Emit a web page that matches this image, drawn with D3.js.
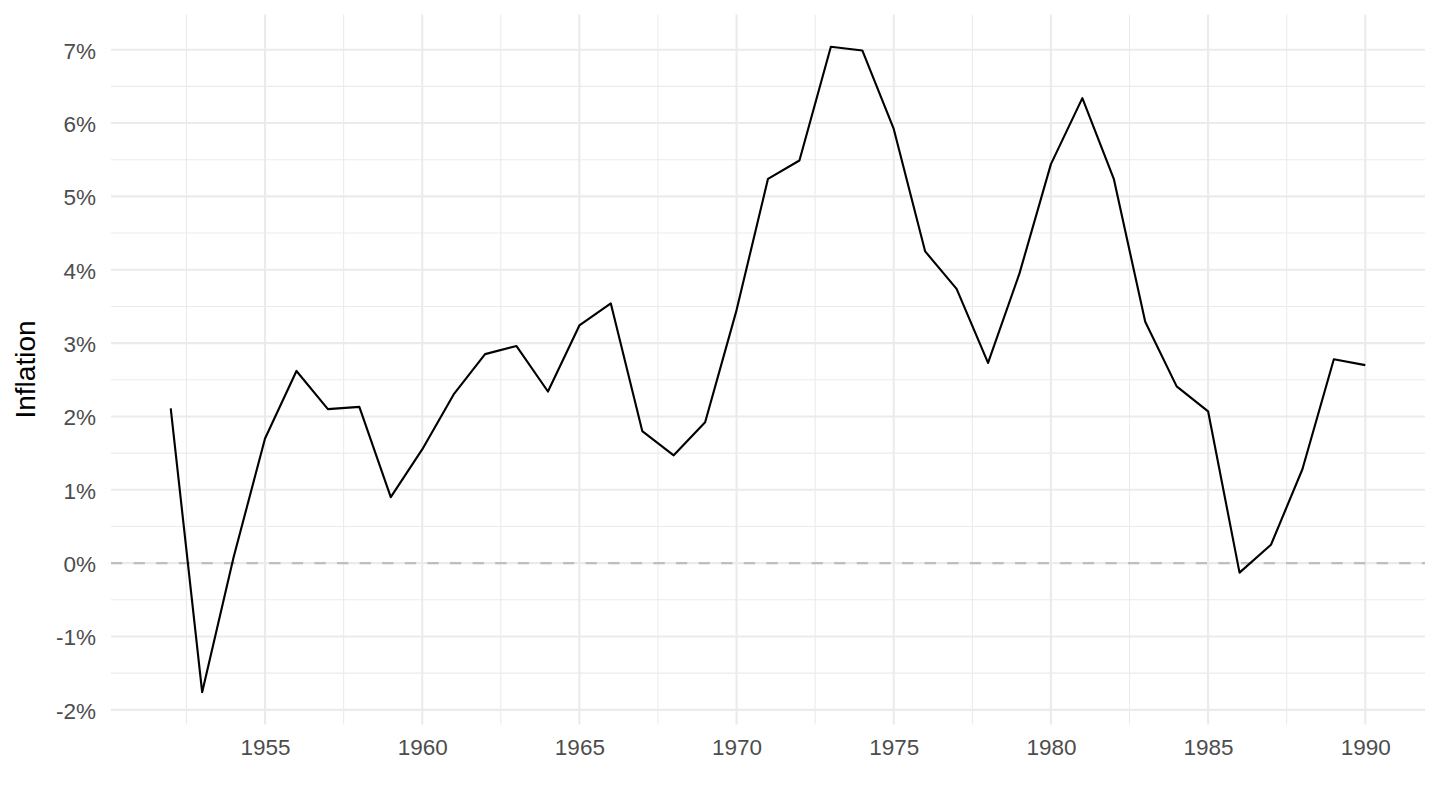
<!DOCTYPE html>
<html>
<head>
<meta charset="utf-8">
<script src="https://cdn.jsdelivr.net/npm/d3@7"></script>
<style>
  html, body { margin: 0; padding: 0; background: #fff; }
  svg { display: block; }
</style>
</head>
<body>
<svg id="chart" width="1440" height="810"></svg>
<script>
const years = [1952,1953,1954,1955,1956,1957,1958,1959,1960,1961,1962,1963,1964,1965,1966,1967,1968,1969,1970,1971,1972,1973,1974,1975,1976,1977,1978,1979,1980,1981,1982,1983,1984,1985,1986,1987,1988,1989,1990];
const inflation = [2.11,-1.76,0.08,1.70,2.62,2.10,2.13,0.90,1.55,2.30,2.85,2.96,2.34,3.24,3.54,1.80,1.47,1.92,3.45,5.24,5.49,7.04,6.99,5.92,4.25,3.74,2.73,3.95,5.44,6.34,5.24,3.29,2.41,2.07,-0.13,0.25,1.28,2.78,2.70];
const xMajorTicks = [1955,1960,1965,1970,1975,1980,1985,1990];
const xMinorTicks = [1952.5,1957.5,1962.5,1967.5,1972.5,1977.5,1982.5,1987.5];
const yMajorTicks = [-2,-1,0,1,2,3,4,5,6,7];
const yMinorTicks = [-1.5,-0.5,0.5,1.5,2.5,3.5,4.5,5.5,6.5];
const yTitle = "Inflation";

const svg = d3.select("#chart");
const panel = {left: 111, right: 1425, top: 14.5, bottom: 724.5};

function expand(ext, m) { const d = (ext[1]-ext[0])*m; return [ext[0]-d, ext[1]+d]; }
const x = d3.scaleLinear().domain(expand(d3.extent(years), 0.05)).range([panel.left, panel.right]);
const y = d3.scaleLinear().domain(expand(d3.extent(inflation), 0.05)).range([panel.bottom, panel.top]);

const grid = svg.append("g");
// minor grid
grid.selectAll(".ymin").data(yMinorTicks).enter().append("line")
  .attr("x1", panel.left).attr("x2", panel.right)
  .attr("y1", d => y(d)).attr("y2", d => y(d))
  .attr("stroke", "#ebebeb").attr("stroke-width", 1.07);
grid.selectAll(".xmin").data(xMinorTicks).enter().append("line")
  .attr("y1", panel.top).attr("y2", panel.bottom)
  .attr("x1", d => x(d)).attr("x2", d => x(d))
  .attr("stroke", "#ebebeb").attr("stroke-width", 1.07);
// major grid
grid.selectAll(".ymaj").data(yMajorTicks).enter().append("line")
  .attr("x1", panel.left).attr("x2", panel.right)
  .attr("y1", d => y(d)).attr("y2", d => y(d))
  .attr("stroke", "#ebebeb").attr("stroke-width", 2.13);
grid.selectAll(".xmaj").data(xMajorTicks).enter().append("line")
  .attr("y1", panel.top).attr("y2", panel.bottom)
  .attr("x1", d => x(d)).attr("x2", d => x(d))
  .attr("stroke", "#ebebeb").attr("stroke-width", 2.13);

// zero dashed line
svg.append("line")
  .attr("x1", panel.left).attr("x2", panel.right)
  .attr("y1", y(0)).attr("y2", y(0))
  .attr("stroke", "#bebebe").attr("stroke-width", 2.13)
  .attr("stroke-dasharray", "11.3 11.3");

// data line
const line = d3.line().x((d, i) => x(years[i])).y(d => y(d));
svg.append("path")
  .datum(inflation)
  .attr("d", line)
  .attr("fill", "none")
  .attr("stroke", "#000")
  .attr("stroke-width", 2.13)
  .attr("stroke-linejoin", "round");

// axes (labels only)
const font = "'Liberation Sans', Arial, Helvetica, sans-serif";
const xAxis = d3.axisBottom(x).tickValues(xMajorTicks).tickFormat(d3.format("d")).tickSize(0).tickPadding(0);
const gx = svg.append("g").attr("transform", `translate(0,${panel.bottom})`).call(xAxis);
gx.select(".domain").remove();
gx.selectAll("text").attr("dy", null).attr("y", 30.5)
  .attr("fill", "#4d4d4d").style("font-family", font).style("font-size", "22.5px");

const yAxis = d3.axisLeft(y).tickValues(yMajorTicks).tickFormat(d => d + "%").tickSize(0).tickPadding(0);
const gy = svg.append("g").attr("transform", `translate(${panel.left},0)`).call(yAxis);
gy.select(".domain").remove();
gy.selectAll("text").attr("dy", null).attr("x", -15).attr("y", 8.5)
  .attr("fill", "#4d4d4d").style("font-family", font).style("font-size", "22.5px");

svg.append("text")
  .attr("transform", `translate(35,${(panel.top+panel.bottom)/2}) rotate(-90)`)
  .attr("text-anchor", "middle")
  .style("font-family", font).style("font-size", "28px").attr("fill", "#000")
  .text(yTitle);
</script>
</body>
</html>
